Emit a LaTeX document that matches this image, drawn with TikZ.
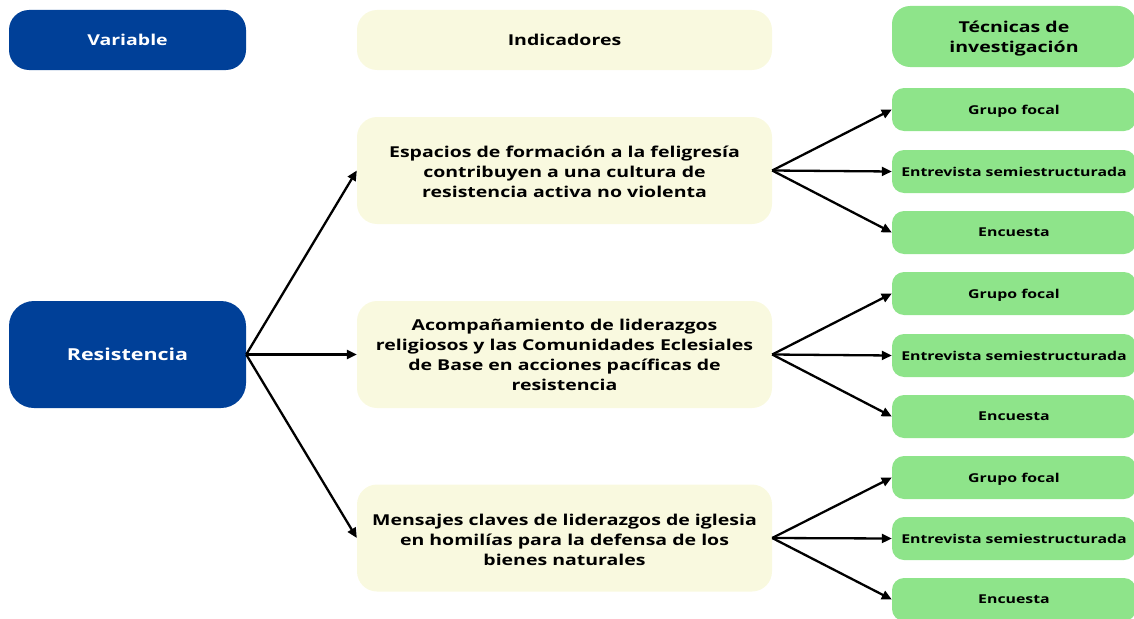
\documentclass[tikz,border=0pt]{standalone}
\usepackage{fontspec}
\setmainfont{Open Sans}[FakeStretch=1.3]
\usetikzlibrary{arrows.meta}
\definecolor{varblue}{RGB}{0,64,152}
\definecolor{indcream}{RGB}{249,249,223}
\definecolor{tecgreen}{RGB}{142,228,138}
\newcommand{\topfix}{\rule{0pt}{15pt}}
\tikzset{
  x=1pt,y=-1pt,
  box/.style={rectangle,rounded corners=20pt,draw=none,align=center,inner sep=2pt,font=\bfseries},
  onel/.style={text depth=0pt},
  varbox/.style={box,fill=varblue,text=white,minimum width=237pt,font=\bfseries\fontsize{15}{18}\selectfont},
  indbox/.style={box,fill=indcream,text=black,minimum width=415pt,font=\bfseries\fontsize{15}{20}\selectfont},
  tecbox/.style={box,fill=tecgreen,text=black,minimum width=244pt,minimum height=43pt,rounded corners=12pt,font=\bfseries\fontsize{12.2}{15}\selectfont},
  conn/.style={line width=2.3pt,-{Triangle[length=10pt,width=9pt]}}
}
\begin{document}
\begin{tikzpicture}
\useasboundingbox (0,0) rectangle (1134,618);
% headers
\node[varbox,onel,minimum height=60pt] (hv) at (127.5,40) {Variable};
\node[indbox,onel,minimum height=60pt] (hi) at (564.5,40) {Indicadores};
\node[tecbox,minimum height=61pt,rounded corners=18pt,font=\bfseries\fontsize{15}{20}\selectfont] (ht) at (1014,36.5) {\topfix Técnicas de\\investigación};
% variable
\node[varbox,onel,minimum height=107pt,rounded corners=25pt,font=\bfseries\fontsize{16.5}{20}\selectfont] (res) at (127.5,354.5) {Resistencia};
% indicators
\node[indbox,minimum height=107pt] (i1) at (564.5,170.5) {\topfix Espacios de formación a la feligresía\\contribuyen a una cultura de\\resistencia activa no violenta};
\node[indbox,minimum height=107pt] (i2) at (564.5,354.5) {Acompañamiento de liderazgos\\religiosos y las Comunidades Eclesiales\\de Base en acciones pacíficas de\\resistencia};
\node[indbox,minimum height=107pt] (i3) at (564.5,538) {\topfix Mensajes claves de liderazgos de iglesia\\en homilías para la defensa de los\\bienes naturales};
% techniques group 1
\node[tecbox,onel] (g1) at (1014,109.5) {Grupo focal};
\node[tecbox,onel] (e1) at (1014,171.5) {Entrevista semiestructurada};
\node[tecbox,onel] (n1) at (1014,232.5) {Encuesta};
% group 2
\node[tecbox,onel] (g2) at (1014,293.5) {Grupo focal};
\node[tecbox,onel] (e2) at (1014,355.5) {Entrevista semiestructurada};
\node[tecbox,onel] (n2) at (1014,416.5) {Encuesta};
% group 3
\node[tecbox,onel] (g3) at (1014,477.5) {Grupo focal};
\node[tecbox,onel] (e3) at (1014,538.5) {Entrevista semiestructurada};
\node[tecbox,onel] (n3) at (1014,599.5) {Encuesta};
% connectors from variable
\draw[conn] (res.east) -- (i1.west);
\draw[conn] (res.east) -- (i2.west);
\draw[conn] (res.east) -- (i3.west);
% connectors from indicators
\foreach \i in {1,2,3}{
  \draw[conn] (i\i.east) -- (g\i.west);
  \draw[conn] (i\i.east) -- (e\i.west);
  \draw[conn] (i\i.east) -- (n\i.west);
}
\end{tikzpicture}
\end{document}
